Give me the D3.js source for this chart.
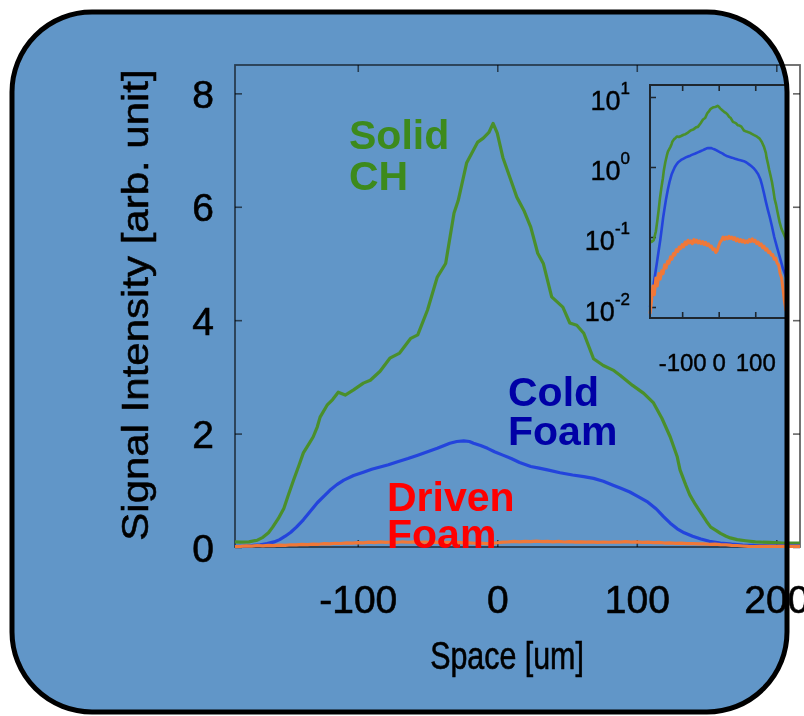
<!DOCTYPE html>
<html>
<head>
<meta charset="utf-8">
<script src="https://cdn.jsdelivr.net/npm/d3@7"></script>
<style>
  html, body { margin: 0; padding: 0; background: #ffffff; }
  svg { display: block; font-family: "Liberation Sans", Arial, Helvetica, sans-serif; }
  .axis-text { stroke: #000; stroke-width: 0.6px; }
</style>
</head>
<body>
<svg id="chart" width="804" height="716"></svg>
<script>
// Tick values
const xTicks = [-100, 0, 100, 200];
const yTicks = [0, 2, 4, 6, 8];
const insetXTicks = [-100, 0, 100];
const insetYTicks = [0.01, 0.1, 1, 10];

// Lineouts: [space (um), signal (arb. unit)]
const solidCH = [
  [-188, 0.09], [-184, 0.085], [-178, 0.09], [-172, 0.12], [-168, 0.17], [-164, 0.25],
  [-161, 0.35], [-157, 0.5], [-153, 0.68], [-150, 0.9], [-146, 1.18], [-142, 1.45],
  [-139, 1.66], [-135, 1.82], [-132, 1.94], [-129, 2.12], [-127, 2.29], [-122, 2.5],
  [-118, 2.6], [-114, 2.73], [-109, 2.68], [-103, 2.77], [-96, 2.89], [-91, 2.94],
  [-84, 3.1], [-77, 3.33], [-70, 3.42], [-62, 3.68], [-57, 3.74], [-50, 4.18],
  [-43, 4.76], [-37, 5.0], [-31, 5.89], [-28, 6.11], [-22, 6.77], [-14, 7.14],
  [-10, 7.21], [-6, 7.31], [-3, 7.47], [0, 7.3], [4, 6.87], [9, 6.52], [14, 6.17],
  [19, 5.94], [24, 5.64], [29, 5.18], [33, 5.0], [39, 4.41], [47, 4.23], [52, 3.95],
  [57, 3.91], [62, 3.77], [69, 3.32], [76, 3.2], [83, 3.12], [88, 3.03], [97, 2.85],
  [105, 2.71], [112, 2.54], [118, 2.27], [124, 1.94], [129, 1.59], [131, 1.36],
  [135, 1.1], [138, 0.92], [142, 0.75], [146, 0.6], [150, 0.45], [153, 0.35],
  [157, 0.29], [160, 0.24], [164, 0.19], [167, 0.16], [172, 0.13], [178, 0.11],
  [185, 0.09], [195, 0.08], [205, 0.07], [217, 0.07]
];

const coldFoam = [
  [-188, 0.01], [-182, 0.015], [-176, 0.025], [-170, 0.04], [-165, 0.06], [-160, 0.09],
  [-156, 0.13], [-152, 0.19], [-148, 0.26], [-144, 0.35], [-139, 0.48], [-134, 0.63],
  [-129, 0.78], [-124, 0.9], [-120, 1.0], [-115, 1.1], [-110, 1.18], [-103, 1.26],
  [-96, 1.32], [-90, 1.37], [-84, 1.41], [-78, 1.45], [-72, 1.5], [-64, 1.56],
  [-57, 1.62], [-50, 1.68], [-43, 1.74], [-38, 1.79], [-34, 1.83], [-29, 1.86],
  [-24, 1.87], [-20, 1.86], [-17, 1.83], [-12, 1.79], [-7, 1.74], [-2, 1.68],
  [4, 1.62], [10, 1.56], [16, 1.49], [24, 1.42], [30, 1.39], [36, 1.36], [45, 1.31],
  [54, 1.27], [62, 1.24], [69, 1.21], [76, 1.16], [83, 1.09], [89, 1.03], [95, 0.97],
  [101, 0.89], [108, 0.79], [114, 0.67], [119, 0.54], [124, 0.42], [129, 0.32],
  [134, 0.25], [140, 0.19], [146, 0.14], [152, 0.1], [160, 0.07], [168, 0.05],
  [176, 0.035], [184, 0.027], [195, 0.022], [205, 0.02], [217, 0.02]
];

const drivenFoam = [
  [-188, 0.008], [-184, 0.012], [-180, 0.02], [-176, 0.015], [-172, 0.026], [-168, 0.02],
  [-164, 0.03], [-160, 0.025], [-156, 0.033], [-152, 0.03], [-148, 0.04], [-144, 0.036],
  [-140, 0.045], [-136, 0.042], [-132, 0.052], [-128, 0.048], [-124, 0.058], [-120, 0.055],
  [-116, 0.066], [-112, 0.062], [-108, 0.072], [-104, 0.068], [-100, 0.078], [-96, 0.072],
  [-92, 0.085], [-88, 0.078], [-84, 0.09], [-80, 0.082], [-76, 0.088], [-72, 0.08],
  [-68, 0.092], [-64, 0.084], [-60, 0.09], [-56, 0.082], [-52, 0.088], [-48, 0.08],
  [-44, 0.086], [-40, 0.078], [-36, 0.084], [-32, 0.076], [-28, 0.08], [-24, 0.072],
  [-20, 0.074], [-16, 0.066], [-12, 0.068], [-8, 0.06], [-4, 0.064], [0, 0.075],
  [4, 0.085], [8, 0.09], [12, 0.1], [16, 0.092], [20, 0.1], [24, 0.094], [28, 0.102],
  [32, 0.095], [36, 0.1], [40, 0.092], [44, 0.098], [48, 0.088], [52, 0.094], [56, 0.086],
  [60, 0.092], [64, 0.085], [68, 0.09], [72, 0.083], [76, 0.088], [80, 0.084], [84, 0.092],
  [88, 0.086], [92, 0.094], [96, 0.086], [100, 0.09], [104, 0.08], [108, 0.085],
  [112, 0.076], [116, 0.08], [120, 0.07], [124, 0.074], [128, 0.065], [132, 0.068],
  [136, 0.06], [140, 0.062], [144, 0.055], [148, 0.056], [152, 0.048], [156, 0.05],
  [160, 0.042], [164, 0.04], [168, 0.03], [172, 0.026], [176, 0.018], [180, 0.012],
  [184, 0.009], [188, 0.01], [196, 0.012], [204, 0.011], [212, 0.012], [217, 0.011]
];

const seriesNames = ["Solid CH", "Cold Foam", "Driven Foam"];
const seriesData = [solidCH, coldFoam, drivenFoam];
const lineColors = ["#4a8f2b", "#2344dc", "#f07838"];
const labelColors = ["#3d8a1c", "#0000a6", "#ff0000"];

const svg = d3.select("#chart");
const card = { x: 12, y: 12, w: 775, h: 700, r: 80 };
const frameGray = "#666666";
const plainNumber = d => String(d);   // hyphen-minus, as on the axes

svg.append("defs").append("clipPath").attr("id", "card-clip")
  .append("rect")
  .attr("x", card.x).attr("y", card.y).attr("width", card.w).attr("height", card.h)
  .attr("rx", card.r).attr("ry", card.r);

svg.append("rect").attr("width", 804).attr("height", 716).attr("fill", "#ffffff");
svg.append("rect")
  .attr("x", card.x).attr("y", card.y).attr("width", card.w).attr("height", card.h)
  .attr("rx", card.r).attr("ry", card.r)
  .attr("fill", "#6196c8");

// ---------- main panel ----------
const x = d3.scaleLinear().domain([-188, 217]).range([235, 800]);
const y = d3.scaleLinear().domain([0, 8.5]).range([547, 65]);

const main = svg.append("g");

main.append("rect")
  .attr("x", x.range()[0]).attr("y", y.range()[1])
  .attr("width", x.range()[1] - x.range()[0]).attr("height", y.range()[0] - y.range()[1])
  .attr("fill", "none").attr("stroke", frameGray).attr("stroke-width", 1.8)
  .style("mix-blend-mode", "multiply");

function styleAxis(g) {
  g.select(".domain").remove();
  g.selectAll(".tick line").attr("stroke", frameGray).attr("stroke-width", 1.6)
    .style("mix-blend-mode", "multiply");
  g.selectAll(".tick text").attr("fill", "#000").attr("class", "axis-text");
}

main.append("g").attr("transform", `translate(0,${y.range()[0]})`)
  .call(d3.axisBottom(x).tickValues(xTicks).tickSize(-7).tickSizeOuter(0).tickFormat(plainNumber))
  .call(styleAxis)
  .call(g => g.selectAll(".tick text").attr("dy", null).attr("y", 66)
    .style("font-size", "39px"));

main.append("g").attr("transform", `translate(0,${y.range()[1]})`)
  .call(d3.axisTop(x).tickValues(xTicks).tickSize(-7).tickSizeOuter(0).tickFormat(""))
  .call(styleAxis);

main.append("g").attr("transform", `translate(${x.range()[0]},0)`)
  .call(d3.axisLeft(y).tickValues(yTicks).tickSize(-7).tickSizeOuter(0).tickPadding(21).tickFormat(plainNumber))
  .call(styleAxis)
  .call(g => g.selectAll(".tick text").attr("dy", null).attr("y", 14)
    .style("font-size", "39px"));

main.append("g").attr("transform", `translate(${x.range()[1]},0)`)
  .call(d3.axisRight(y).tickValues(yTicks).tickSize(-7).tickSizeOuter(0).tickFormat(""))
  .call(styleAxis);

main.append("text")
  .attr("class", "axis-text")
  .attr("transform", "translate(148,305) rotate(-90) scale(1,0.9)")
  .attr("text-anchor", "middle")
  .style("font-size", "42px")
  .attr("fill", "#000")
  .text("Signal Intensity [arb. unit]");

main.append("text")
  .attr("class", "axis-text")
  .attr("transform", "translate(507,669) scale(0.8,1)")
  .attr("text-anchor", "middle")
  .style("font-size", "38px")
  .attr("fill", "#000")
  .text("Space [um]");

const line = d3.line().x(d => x(d[0])).y(d => y(d[1]));
main.selectAll("path.series")
  .data(seriesData)
  .join("path")
  .attr("class", "series")
  .attr("d", line)
  .attr("fill", "none")
  .attr("stroke", (d, i) => lineColors[i])
  .attr("stroke-width", 3.2)
  .attr("stroke-linejoin", "round");

// ---------- log-scale inset ----------
const xi = d3.scaleLinear().domain([-188, 217]).range([650, 798]);
const yi = d3.scaleLog().domain([Math.pow(10, -2.157), Math.pow(10, 1.171)]).range([318, 85]);

const inset = svg.append("g").attr("clip-path", "url(#card-clip)");

function styleInsetAxis(g) {
  g.select(".domain").remove();
  g.selectAll(".tick line").attr("stroke", "#1e262e").attr("stroke-width", 1.6);
  g.selectAll(".tick text").attr("fill", "#000").attr("class", "axis-text");
}

inset.append("g").attr("transform", `translate(0,${yi.range()[0]})`)
  .call(d3.axisBottom(xi).tickValues(insetXTicks).tickSize(-6).tickSizeOuter(0).tickFormat(plainNumber))
  .call(styleInsetAxis)
  .call(g => g.selectAll(".tick text").attr("dy", null).attr("y", 53)
    .style("font-size", "24px").style("stroke-width", "0.4px"));

inset.append("g").attr("transform", `translate(0,${yi.range()[1]})`)
  .call(d3.axisTop(xi).tickValues(insetXTicks).tickSize(-6).tickSizeOuter(0).tickFormat(""))
  .call(styleInsetAxis);

inset.append("g").attr("transform", `translate(${xi.range()[0]},0)`)
  .call(d3.axisLeft(yi).tickValues(insetYTicks).tickSize(-6).tickSizeOuter(0).tickFormat(() => ""))
  .call(styleInsetAxis)
  .call(g => g.selectAll(".tick text").each(function (d) {
    const t = d3.select(this)
      .attr("dy", null).attr("x", -20).attr("y", 13)
      .attr("text-anchor", "end")
      .style("stroke-width", "0.4px");
    t.append("tspan").style("font-size", "27px").text("10");
    t.append("tspan").attr("dy", -16).style("font-size", "17px")
      .text(String(Math.round(Math.log10(d))));
  }));

inset.append("g").attr("transform", `translate(${xi.range()[1]},0)`)
  .call(d3.axisRight(yi).tickValues(insetYTicks).tickSize(-6).tickSizeOuter(0).tickFormat(""))
  .call(styleInsetAxis);

const insetLine = d3.line().x(d => xi(d[0])).y(d => yi(d[1]));
inset.selectAll("path.series")
  .data(seriesData)
  .join("path")
  .attr("class", "series")
  .attr("d", insetLine)
  .attr("fill", "none")
  .attr("stroke", (d, i) => lineColors[i])
  .attr("stroke-width", (d, i) => i === 2 ? 3 : 2.6)
  .attr("stroke-linejoin", "round");

inset.append("rect")
  .attr("x", xi.range()[0]).attr("y", yi.range()[1])
  .attr("width", xi.range()[1] - xi.range()[0]).attr("height", yi.range()[0] - yi.range()[1])
  .attr("fill", "none").attr("stroke", "#1e262e").attr("stroke-width", 2);

// ---------- series labels ----------
const labelPos = [
  { x: 349, y: 149 },
  { x: 508, y: 406 },
  { x: 387, y: 511 }
];
const labelGap = [41, 39, 37];
seriesNames.forEach((name, i) => {
  const words = name.split(" ");
  const t = svg.append("text")
    .attr("x", labelPos[i].x).attr("y", labelPos[i].y)
    .attr("fill", labelColors[i])
    .style("font-size", "41px").style("font-weight", "bold");
  words.forEach((w, j) => {
    t.append("tspan").attr("x", labelPos[i].x).attr("dy", j === 0 ? 0 : labelGap[i]).text(w);
  });
});

// card outline on top
svg.append("rect")
  .attr("x", card.x).attr("y", card.y).attr("width", card.w).attr("height", card.h)
  .attr("rx", card.r).attr("ry", card.r)
  .attr("fill", "none").attr("stroke", "#000").attr("stroke-width", 5);
</script>
</body>
</html>
